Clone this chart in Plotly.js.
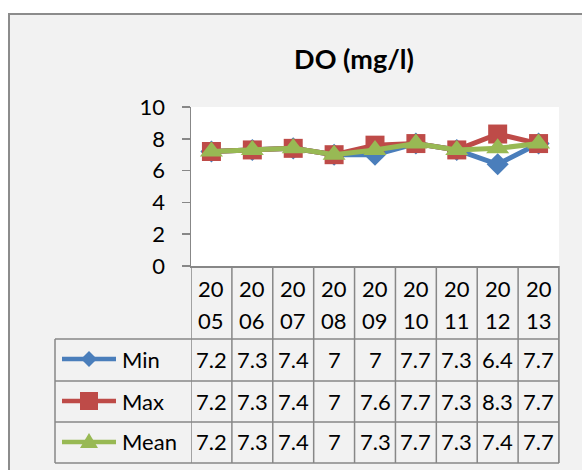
<!DOCTYPE html>
<html><head><meta charset="utf-8">
<script src="https://cdn.plot.ly/plotly-3.0.1.min.js"></script>
<style>html,body{margin:0;padding:0;background:#fff}#c{width:582px;height:470px}</style>
</head><body><div id="c"></div>
<script>
const years = ['2005','2006','2007','2008','2009','2010','2011','2012','2013'];
const seriesNames = ['Min','Max','Mean'];
const minVals  = [7.2,7.3,7.4,7,7,7.7,7.3,6.4,7.7];
const maxVals  = [7.2,7.3,7.4,7,7.6,7.7,7.3,8.3,7.7];
const meanVals = [7.2,7.3,7.4,7,7.3,7.7,7.3,7.4,7.7];
const yTicks = [0,2,4,6,8,10];

const W=582,H=470,L=191,R=559,T=107,B=266;
const pw=R-L, ph=B-T;
const px=v=>(v-L)/pw, py=v=>(B-v)/ph;
const colors=['#4A7EBB','#BE4B48','#98B954'];
const symbols=['diamond','square','triangle-up'];
const msize=[17,19,20];
const vals=[minVals,maxVals,meanVals];
const gridC='#878787';
const fontF='Lato, "Open Sans", sans-serif';

const traces=vals.map((v,k)=>({
  type:'scatter',mode:'lines+markers',x:years,y:v,name:seriesNames[k],
  line:{color:colors[k],width:5},
  marker:{symbol:symbols[k],size:msize[k],color:colors[k],line:{width:0}},
  hoverinfo:'skip',showlegend:false
}));

const shapes=[];
shapes.push({type:'rect',layer:'below',xref:'paper',yref:'paper',x0:px(9),x1:px(640),y0:py(14),y1:py(540),fillcolor:'#F2F2F2',line:{color:'#8C8C8C',width:2}});
shapes.push({type:'rect',layer:'below',xref:'paper',yref:'paper',x0:0,x1:1,y0:0,y1:1,fillcolor:'#FFFFFF',line:{width:0}});
for(let i=0;i<=years.length;i++){
  shapes.push({type:'line',xref:'x',yref:'paper',x0:i-0.5,x1:i-0.5,y0:py(266),y1:py(463),line:{color:gridC,width:1.5}});
}
const rowLines=[339,381,422,463];
rowLines.forEach(r=>shapes.push({type:'line',xref:'paper',yref:'paper',x0:px(55),x1:px(559),y0:py(r),y1:py(r),line:{color:gridC,width:1.5}}));
shapes.push({type:'line',xref:'paper',yref:'paper',x0:px(55),x1:px(55),y0:py(339),y1:py(463),line:{color:gridC,width:1.5}});
shapes.push({type:'line',xref:'paper',yref:'paper',x0:px(559),x1:px(559),y0:py(266),y1:py(463),line:{color:gridC,width:1.5}});

const rowY=[359,401,442];
const annotations=[];
years.forEach((yr,i)=>{
  annotations.push({xref:'x',yref:'paper',x:i,y:py(288),text:yr.slice(0,2),showarrow:false,font:{family:fontF,size:22,color:'#000'},xanchor:'center',yanchor:'middle'});
  annotations.push({xref:'x',yref:'paper',x:i,y:py(320),text:yr.slice(2),showarrow:false,font:{family:fontF,size:22,color:'#000'},xanchor:'center',yanchor:'middle'});
});
vals.forEach((v,k)=>{
  v.forEach((val,i)=>{
    annotations.push({xref:'x',yref:'paper',x:i,y:py(rowY[k]),text:String(val),showarrow:false,font:{family:fontF,size:22,color:'#000'},xanchor:'center',yanchor:'middle'});
  });
  annotations.push({xref:'paper',yref:'paper',x:px(120),y:py(rowY[k]),text:seriesNames[k],showarrow:false,font:{family:fontF,size:22,color:'#000'},xanchor:'left',yanchor:'middle'});
  const cy=rowY[k];
  shapes.push({type:'line',xref:'paper',yref:'paper',x0:px(62),x1:px(116),y0:py(cy),y1:py(cy),line:{color:colors[k],width:4.5}});
  const cx=89;
  let path;
  if(k===0){const r=8;path=`M${px(cx-r)},${py(cy)} L${px(cx)},${py(cy-r)} L${px(cx+r)},${py(cy)} L${px(cx)},${py(cy+r)} Z`;}
  else if(k===1){const r=9;path=`M${px(cx-r)},${py(cy-r)} L${px(cx+r)},${py(cy-r)} L${px(cx+r)},${py(cy+r)} L${px(cx-r)},${py(cy+r)} Z`;}
  else {const r=9;path=`M${px(cx-r)},${py(cy+6)} L${px(cx)},${py(cy-9)} L${px(cx+r)},${py(cy+6)} Z`;}
  shapes.push({type:'path',xref:'paper',yref:'paper',path:path,fillcolor:colors[k],line:{width:0}});
});

const layout={
  width:W,height:H,
  margin:{l:L,r:W-R,t:T,b:H-B,pad:0},
  paper_bgcolor:'#FFFFFF',plot_bgcolor:'rgba(0,0,0,0)',
  title:{text:'DO (mg/l)',font:{family:fontF,size:27,color:'#000',weight:'bold'},x:px(354),xanchor:'center',xref:'paper',y:1-60/H,yanchor:'middle'},
  xaxis:{type:'category',range:[-0.5,years.length-0.5],showticklabels:false,ticks:'',showline:true,linecolor:gridC,linewidth:1.5,showgrid:false,zeroline:false,fixedrange:true},
  yaxis:{range:[0,10],tickvals:yTicks,ticktext:yTicks.map(String),ticks:'outside',ticklen:8,tickcolor:gridC,tickwidth:1.5,showline:true,linecolor:gridC,linewidth:1.5,showgrid:false,zeroline:false,tickfont:{family:fontF,size:22,color:'#000'},ticklabelstandoff:12,fixedrange:true},
  shapes:shapes,annotations:annotations,showlegend:false
};
Plotly.newPlot('c',traces,layout,{displayModeBar:false,staticPlot:true});
</script></body></html>
